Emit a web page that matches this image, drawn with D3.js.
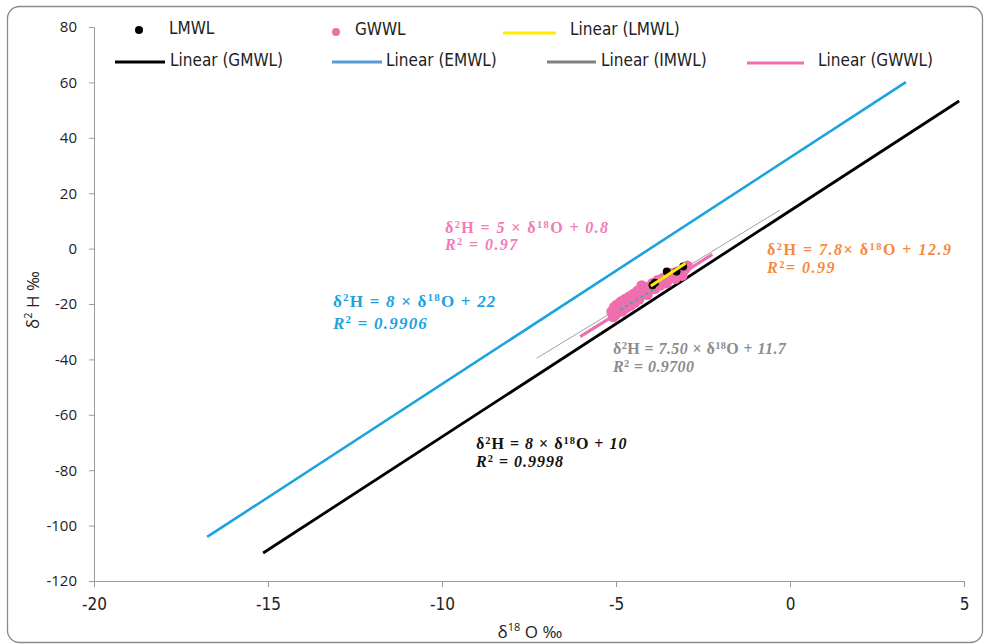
<!DOCTYPE html>
<html>
<head>
<meta charset="utf-8">
<script src="https://cdn.jsdelivr.net/npm/d3@7"></script>
<style>
  body { margin: 0; background: #fff; }
  svg { display: block; }
</style>
</head>
<body>
<script>
const width = 988;
const height = 644;

// axis ticks
const xTicks = [-20, -15, -10, -5, 0, 5];
const yTicks = [-120, -100, -80, -60, -40, -20, 0, 20, 40, 60, 80];

// LMWL samples (black dots)
const lmwlO = [-3.95, -3.88, -3.54, -3.26, -3.07];
const lmwlH = [-13.2, -12.3, -8.3, -8.3, -6.5];

// GWWL samples (pink dots)
const gwwlO = [-5.12, -5.08, -5.05, -5.02, -4.98, -4.95, -4.9, -4.86, -4.82, -4.78,
  -4.74, -4.7, -4.66, -4.62, -4.58, -4.54, -4.5, -4.46, -4.42, -4.38,
  -4.34, -4.3, -4.26, -4.2, -4.15, -4.1, -4.02, -3.95, -3.88, -3.8,
  -3.72, -3.65, -3.55, -3.45, -3.38, -3.3, -3.2, -3.1, -3.02, -2.95];
const gwwlH = [-22.8, -24.6, -21.2, -23.9, -20.4, -22.9, -21.8, -19.2, -22.6, -20.1,
  -18.3, -21.3, -19.3, -17.4, -20.5, -18.4, -16.5, -19.4, -17.2, -15.3,
  -18.3, -16.4, -13.4, -15.9, -14.0, -16.6, -14.8, -12.6, -14.4, -11.5,
  -13.2, -10.7, -12.4, -9.9, -9.0, -10.8, -8.2, -9.7, -7.4, -6.3];

// trend line end points (O, H)
const emwlO = [-16.75, 3.33];
const emwlH = [-104.1, 60.1];
const gmwlO = [-15.14, 4.86];
const gmwlH = [-109.9, 53.3];
const imwlO = [-7.28, -0.29];
const imwlH = [-39.6, 13.9];
const gwwlFitO = [-6.03, -2.23];
const gwwlFitH = [-31.8, -2.1];
const lmwlFitO = [-4.0, -3.0];
const lmwlFitH = [-13.5, -5.3];
const tealO = [-4.88, -3.94];
const tealH = [-22.2, -14.9];

let svg = d3
  .select("body")
  .append("svg")
  .attr("width", width)
  .attr("height", height);

// chart area frame
svg
  .append("rect")
  .attr("x", 7.5)
  .attr("y", 6.5)
  .attr("width", 975)
  .attr("height", 636)
  .attr("rx", 12)
  .attr("fill", "#fff")
  .attr("stroke", "#8a8a8a")
  .attr("stroke-width", 1.3);

let xScale = d3.scaleLinear().domain([-20, 5]).range([94, 964]);
let yScale = d3.scaleLinear().domain([-120, 80]).range([581, 27]);

// plain hyphen minus like the original
const fmt = (d) => String(d);

let xAxis = svg
  .append("g")
  .attr("transform", `translate(0, ${yScale(-120)})`)
  .call(d3.axisBottom(xScale).tickValues(xTicks).tickFormat(fmt).tickSize(6).tickPadding(11).tickSizeOuter(0));

xAxis
  .selectAll("text")
  .attr("font-family", "'Liberation Sans Narrow', 'DejaVu Sans Condensed', sans-serif")
  .attr("font-size", 17)
  .attr("fill", "#222");

let yAxis = svg
  .append("g")
  .attr("transform", `translate(${xScale(-20)}, 0)`)
  .call(d3.axisLeft(yScale).tickValues(yTicks).tickFormat(fmt).tickSize(5).tickPadding(12).tickSizeOuter(0));

yAxis
  .selectAll("text")
  .attr("font-family", "'Open Sans', sans-serif")
  .attr("font-size", 15)
  .attr("fill", "#222");

svg.selectAll(".domain, .tick line").attr("stroke", "#9a9a9a");

// axis titles
let xTitle = svg
  .append("text")
  .attr("x", 530)
  .attr("y", 638)
  .attr("text-anchor", "middle")
  .attr("font-family", "'Open Sans', sans-serif")
  .attr("font-size", 17)
  .attr("fill", "#222");
xTitle.append("tspan").text("δ");
xTitle.append("tspan").attr("baseline-shift", "super").attr("font-size", 11).text("18");
xTitle.append("tspan").text(" O ‰");

let yTitle = svg
  .append("text")
  .attr("transform", "translate(39, 300) rotate(-90)")
  .attr("text-anchor", "middle")
  .attr("font-family", "'Open Sans', sans-serif")
  .attr("font-size", 17)
  .attr("fill", "#222");
yTitle.append("tspan").text("δ");
yTitle.append("tspan").attr("baseline-shift", "super").attr("font-size", 11).text("2");
yTitle.append("tspan").text(" H ‰");

// lines
const lineGen = d3
  .line()
  .x((d) => xScale(d[0]))
  .y((d) => yScale(d[1]));

function drawFit(os, hs, color, w, dash) {
  svg
    .append("path")
    .datum(os.map((o, i) => [o, hs[i]]))
    .attr("d", lineGen)
    .attr("fill", "none")
    .attr("stroke", color)
    .attr("stroke-width", w)
    .attr("stroke-dasharray", dash || null);
}

drawFit(emwlO, emwlH, "#1ba3e0", 2.6);
drawFit(gmwlO, gmwlH, "#000", 2.8);
drawFit(imwlO, imwlH, "#888", 0.8);
drawFit(gwwlFitO, gwwlFitH, "#ef6fae", 3.2);

// points
svg
  .selectAll("circle.gwwl")
  .data(gwwlO.map((o, i) => ({ o: o, h: gwwlH[i] })))
  .join("circle")
  .attr("class", "gwwl")
  .attr("cx", (d) => xScale(d.o))
  .attr("cy", (d) => yScale(d.h))
  .attr("r", 5.5)
  .attr("fill", "#ef6fae");

drawFit(tealO, tealH, "#22b0a8", 1.5, "3,3");

svg
  .selectAll("circle.lmwl")
  .data(lmwlO.map((o, i) => ({ o: o, h: lmwlH[i] })))
  .join("circle")
  .attr("class", "lmwl")
  .attr("cx", (d) => xScale(d.o))
  .attr("cy", (d) => yScale(d.h))
  .attr("r", 4)
  .attr("fill", "#000");

drawFit(lmwlFitO, lmwlFitH, "#ffec00", 3);

// equation labels
const annotations = [
  { x: 445, y: 233, gap: 17, size: 16, ls: 1.4, color: "#f27ab8",
    l1: [["δ"], ["2", "sup"], ["H = "], ["5", "i"], [" × δ"], ["18", "sup"], ["O + "], ["0.8", "i"]],
    l2: [["R", "i"], ["2", "sup"], [" = "], ["0.97", "i"]] },
  { x: 333, y: 307, gap: 22, size: 17, ls: 1.2, color: "#1ba3e0",
    l1: [["δ"], ["2", "sup"], ["H = "], ["8", "i"], [" × δ"], ["18", "sup"], ["O + "], ["22", "i"]],
    l2: [["R", "i"], ["2", "sup"], [" = "], ["0.9906", "i"]] },
  { x: 767, y: 255, gap: 17.5, size: 16, ls: 1.5, color: "#f7893a",
    l1: [["δ"], ["2", "sup"], ["H = "], ["7.8", "i"], ["× δ"], ["18", "sup"], ["O + "], ["12.9", "i"]],
    l2: [["R", "i"], ["2", "sup"], ["= "], ["0.99", "i"]] },
  { x: 613, y: 354, gap: 17.5, size: 16, ls: 0.4, color: "#8c8c8c",
    l1: [["δ"], ["2", "sup"], ["H = "], ["7.50", "i"], [" × δ"], ["18", "sup"], ["O + "], ["11.7", "i"]],
    l2: [["R", "i"], ["2", "sup"], [" = "], ["0.9700", "i"]] },
  { x: 476, y: 449, gap: 18, size: 16, ls: 1.0, color: "#111",
    l1: [["δ"], ["2", "sup"], ["H = "], ["8", "i"], [" × δ"], ["18", "sup"], ["O + "], ["10", "i"]],
    l2: [["R", "i"], ["2", "sup"], [" = "], ["0.9998", "i"]] }
];

annotations.forEach((a) => {
  [a.l1, a.l2].forEach((parts, row) => {
    let t = svg
      .append("text")
      .attr("x", a.x)
      .attr("y", a.y + row * a.gap)
      .attr("font-family", "'Liberation Serif', serif")
      .attr("font-weight", "bold")
      .attr("font-size", a.size)
      .attr("letter-spacing", a.ls)
      .attr("fill", a.color);
    parts.forEach((p) => {
      let s = t.append("tspan").text(p[0]);
      if (p[1] === "i") s.attr("font-style", "italic");
      if (p[1] === "sup") s.attr("baseline-shift", "super").attr("font-size", a.size * 0.65);
    });
  });
});

// legend
const legendFont = "'Liberation Sans Narrow', 'DejaVu Sans Condensed', sans-serif";
function legendText(x, y, label) {
  svg
    .append("text")
    .attr("x", x)
    .attr("y", y)
    .attr("font-family", legendFont)
    .attr("font-size", 17)
    .attr("fill", "#222")
    .text(label);
}
function legendLine(x1, x2, y, color) {
  svg
    .append("line")
    .attr("x1", x1)
    .attr("x2", x2)
    .attr("y1", y)
    .attr("y2", y)
    .attr("stroke", color)
    .attr("stroke-width", 3);
}

svg.append("circle").attr("cx", 139).attr("cy", 30).attr("r", 4).attr("fill", "#000");
legendText(169, 34, "LMWL");
svg.append("circle").attr("cx", 336).attr("cy", 32).attr("r", 4).attr("fill", "#ef6fae");
legendText(355, 35, "GWWL");
legendLine(503, 556, 33, "#ffec00");
legendText(570, 35, "Linear (LMWL)");

legendLine(115, 165, 62, "#000");
legendText(170, 66, "Linear (GMWL)");
legendLine(332, 382, 62, "#5b9bd5");
legendText(386, 66, "Linear (EMWL)");
legendLine(547, 596, 62, "#808080");
legendText(601, 66, "Linear (IMWL)");
legendLine(747, 804, 63, "#ef6fae");
legendText(818, 66, "Linear (GWWL)");
</script>
</body>
</html>
